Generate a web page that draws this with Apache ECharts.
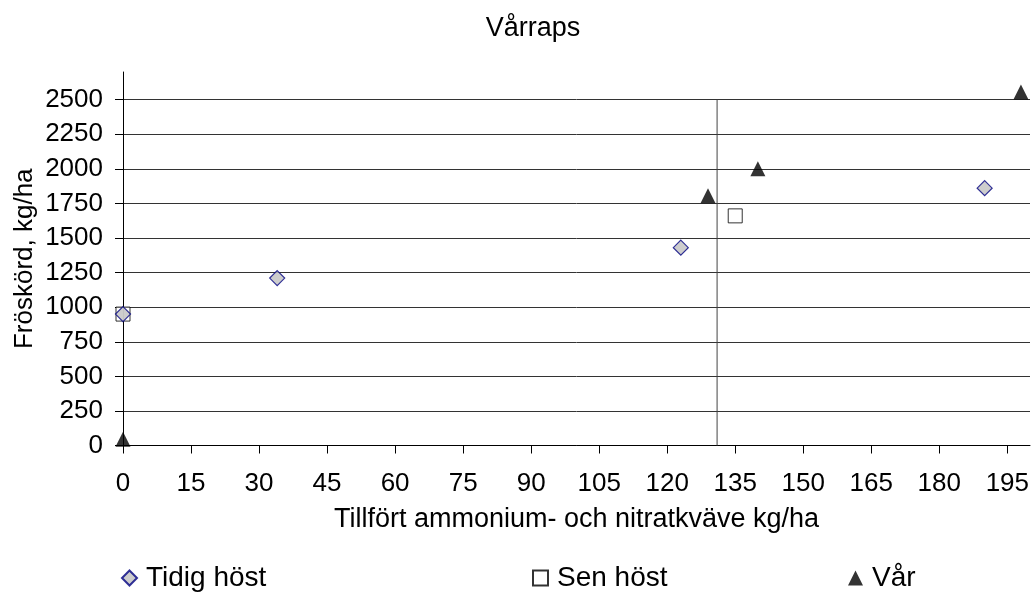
<!DOCTYPE html>
<html><head><meta charset="utf-8">
<script src="https://cdn.jsdelivr.net/npm/echarts@6/dist/echarts.min.js"></script>
<style>html,body{margin:0;padding:0;background:#fff}#c{width:1031px;height:592px}</style>
</head><body><div id="c"></div>
<script>
const titleText = 'Vårraps';
const xName = 'Tillfört ammonium- och nitratkväve kg/ha';
const yName = 'Fröskörd, kg/ha';
const seriesNames = ['Tidig höst', 'Sen höst', 'Vår'];
const tidigX = [0, 34, 123, 190];
const tidigY = [950, 1210, 1430, 1860];
const senX = [0, 135];
const senY = [950, 1660];
const varX = [0, 129, 140, 198];
const varY = [45, 1805, 2000, 2555];
const xTicks = [0, 15, 30, 45, 60, 75, 90, 105, 120, 135, 150, 165, 180, 195];
const yTicks = [0, 250, 500, 750, 1000, 1250, 1500, 1750, 2000, 2250, 2500];
const refLineX = [131, 131];
const refLineY = [0, 2500];

const FONT = 'Liberation Sans';
const FS = 26;
const pts = (xs, ys) => xs.map((x, i) => [x, ys[i]]);
const gridColors = yTicks.map(() => '#333').concat(['transparent', 'transparent']);

const chart = echarts.init(document.getElementById('c'), null, {renderer: 'canvas'});
const legendBase = {
  top: 564, padding: 0, itemWidth: 15, itemHeight: 15,
  textStyle: {fontFamily: FONT, fontSize: 28, color: '#000', padding: [0, 0, 0, 4]},
  selectedMode: false
};
chart.setOption({
  animation: false,
  backgroundColor: '#fff',
  textStyle: {fontFamily: FONT},
  title: {
    text: titleText, left: 528, top: 10, textAlign: 'center',
    textStyle: {fontFamily: FONT, fontSize: 27, fontWeight: 'normal', color: '#000'}
  },
  legend: [
    Object.assign({}, legendBase, {left: 121, data: [seriesNames[0]]}),
    Object.assign({}, legendBase, {left: 532, data: [seriesNames[1]]}),
    Object.assign({}, legendBase, {left: 848, data: [seriesNames[2]]})
  ],
  grid: {left: 123, right: 1, top: 72, bottom: 146.5, containLabel: false, outerBoundsMode: 'none'},
  xAxis: {
    type: 'value', min: 0, max: 200, interval: 15,
    name: xName, nameLocation: 'middle', nameGap: 61, nameMoveOverlap: false,
    nameTextStyle: {fontFamily: FONT, fontSize: 27, color: '#000'},
    axisLine: {show: true, onZero: false, lineStyle: {color: '#000', width: 1}},
    axisTick: {show: true, length: 8, inside: false, customValues: xTicks, lineStyle: {color: '#000'}},
    axisLabel: {fontFamily: FONT, fontSize: FS, color: '#000', margin: 25, customValues: xTicks,
      formatter: v => String(v)},
    splitLine: {show: false}
  },
  yAxis: {
    type: 'value', min: 0, max: 2700, interval: 250,
    name: yName, nameLocation: 'middle', nameGap: 85, nameMoveOverlap: false,
    nameTextStyle: {fontFamily: FONT, fontSize: 26, color: '#000'},
    axisLine: {show: true, onZero: false, lineStyle: {color: '#000', width: 1}},
    axisTick: {show: true, length: 8, inside: false, customValues: yTicks, lineStyle: {color: '#000'}},
    axisLabel: {fontFamily: FONT, fontSize: FS, color: '#000', margin: 20, customValues: yTicks,
      formatter: v => String(v)},
    splitLine: {show: true, lineStyle: {color: gridColors, width: 1}}
  },
  series: [
    {
      name: 'ref', type: 'line', data: pts(refLineX, refLineY), symbol: 'none', silent: true,
      lineStyle: {color: '#444', width: 1}, z: 1
    },
    {
      name: seriesNames[1], type: 'scatter', data: pts(senX, senY), symbol: 'rect', symbolSize: 14,
      itemStyle: {color: '#fff', borderColor: '#000', borderWidth: 1}, z: 2
    },
    {
      name: seriesNames[0], type: 'scatter', data: pts(tidigX, tidigY), symbol: 'diamond', symbolSize: 15,
      itemStyle: {color: '#c0c0c0', borderColor: '#000080', borderWidth: 1.2}, z: 3
    },
    {
      name: seriesNames[2], type: 'scatter', data: pts(varX, varY), symbol: 'triangle', symbolSize: 15,
      itemStyle: {color: '#000'}, z: 4
    }
  ]
});
</script></body></html>
